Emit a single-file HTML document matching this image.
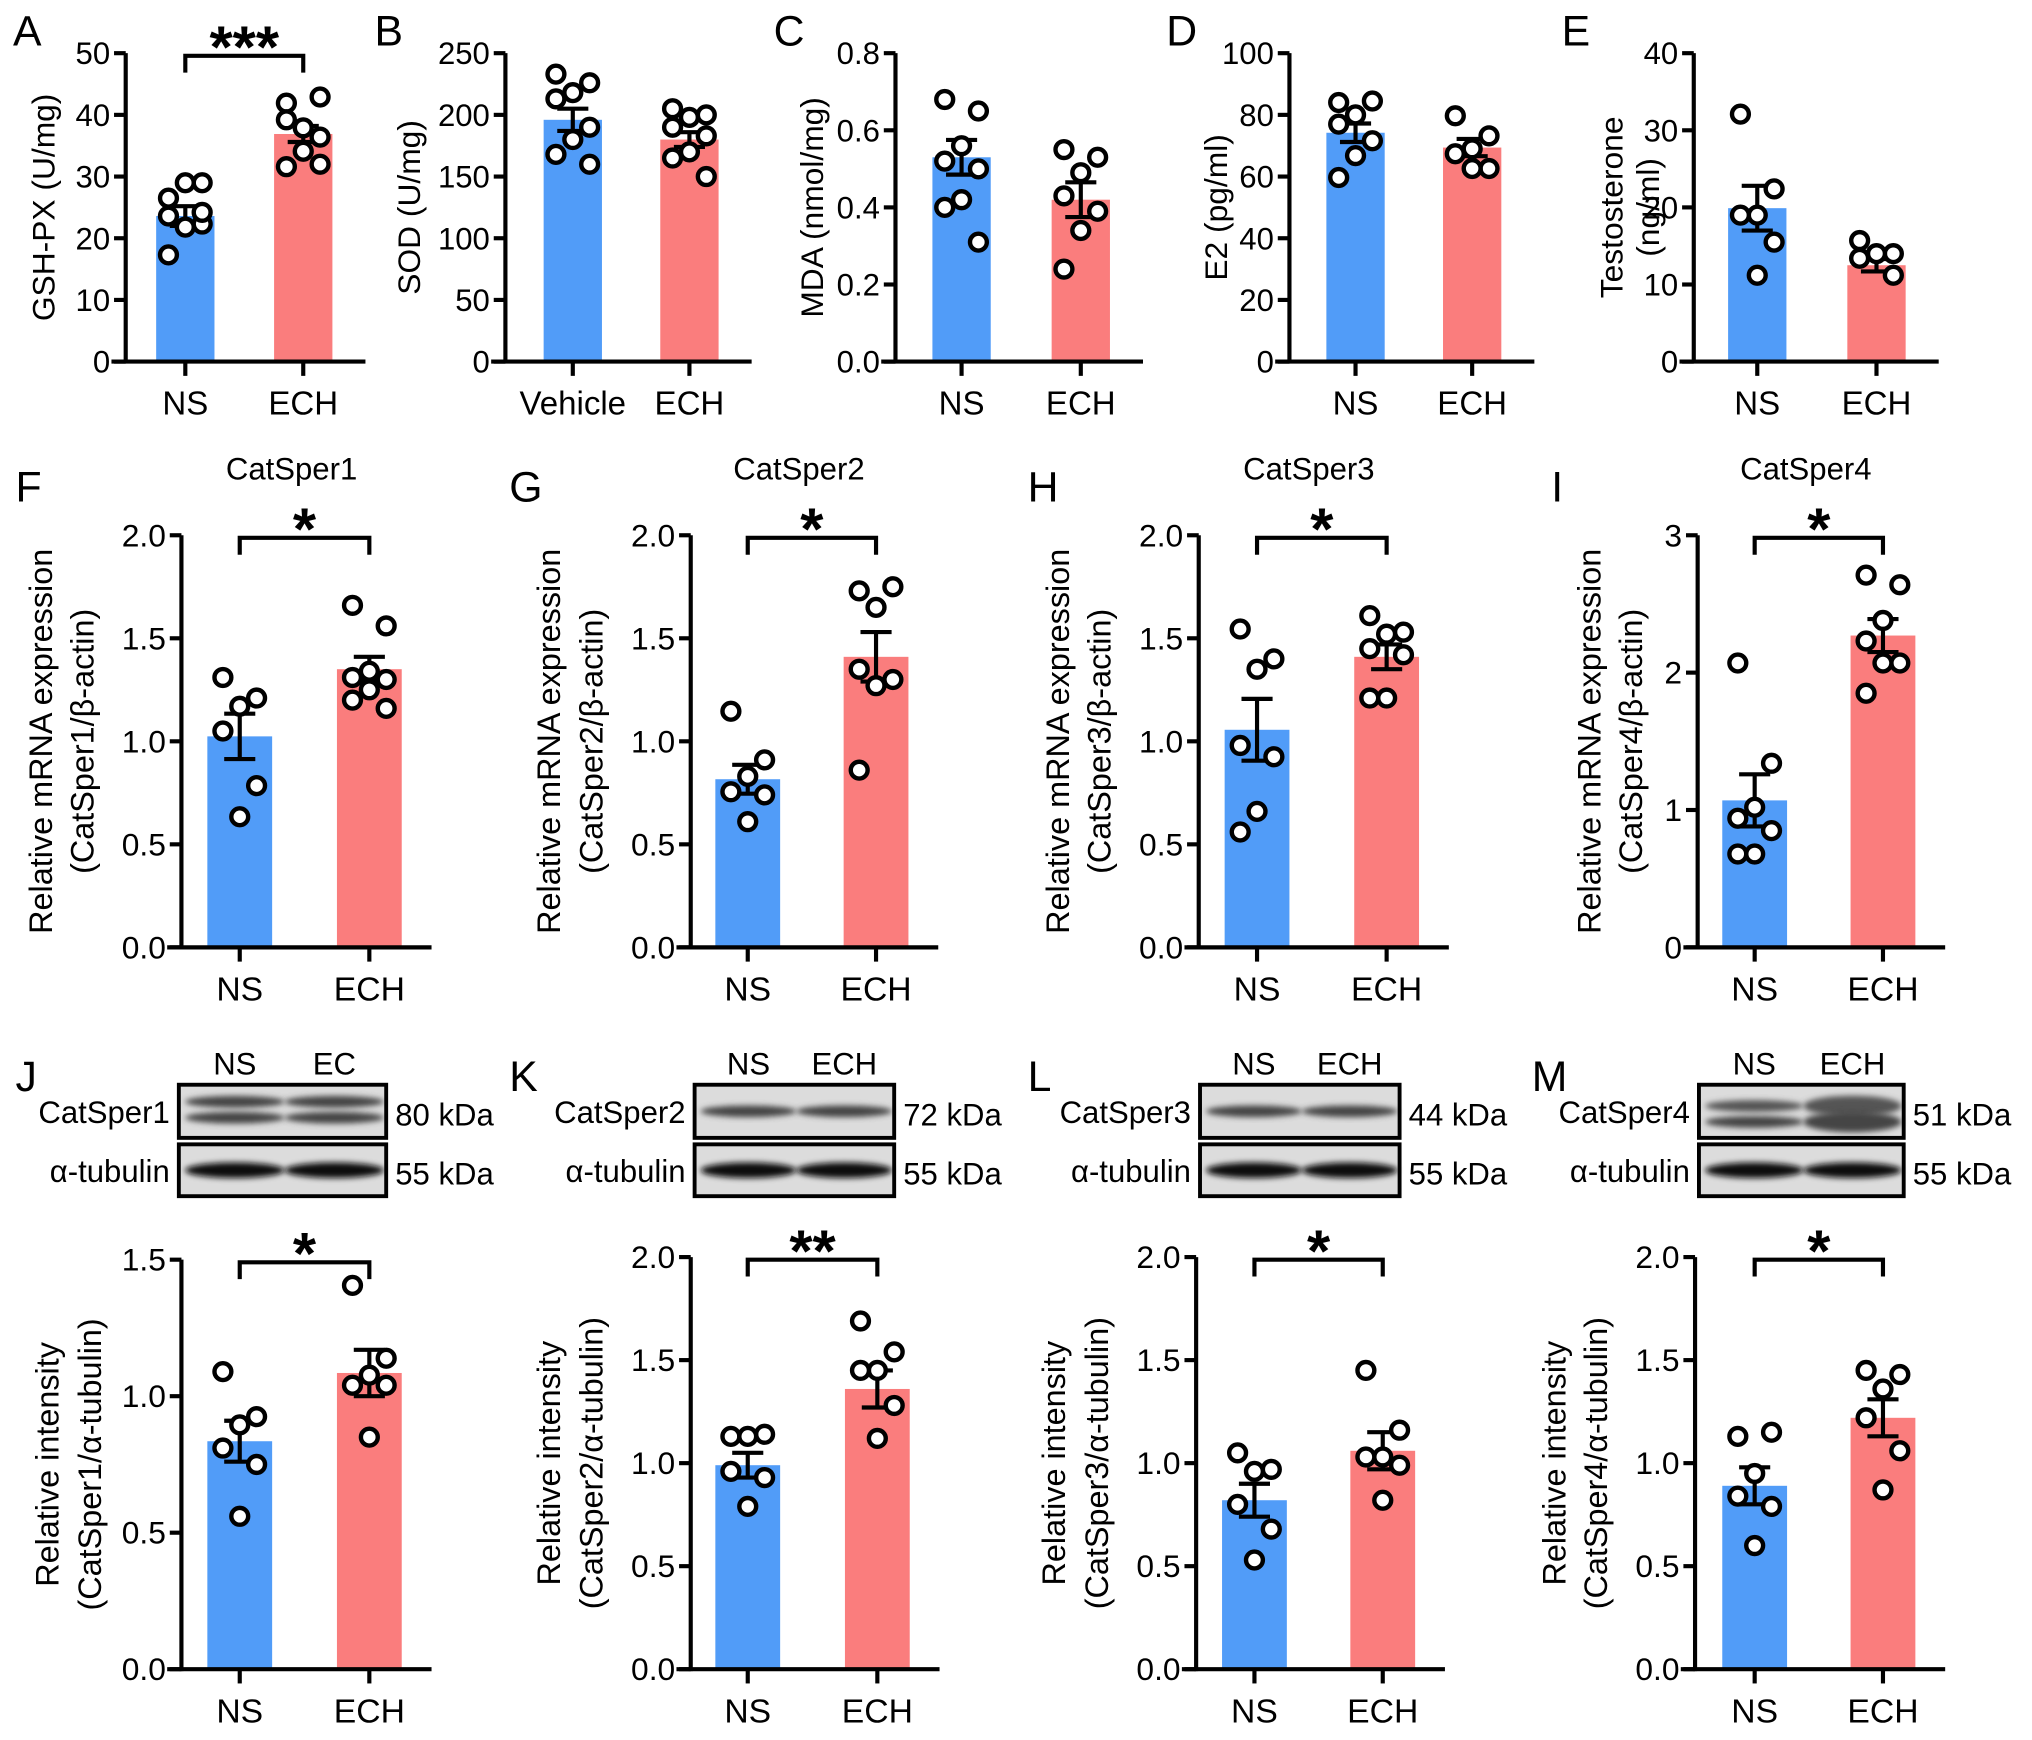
<!DOCTYPE html>
<html><head><meta charset="utf-8"><style>
html,body{margin:0;padding:0;background:#fff;}
svg{display:block;font-family:"Liberation Sans",Arial,sans-serif;}
</style></head><body>
<svg id="fig" xmlns="http://www.w3.org/2000/svg" width="2032" height="1740" viewBox="0 0 1568 1342.6">
<defs>
<filter id="blur1" x="-20%" y="-50%" width="140%" height="200%"><feGaussianBlur stdDeviation="2.2"/></filter>
</defs>
<g id="charts"></g>
<g id="blots"></g>
</svg>
<script>
// ---------- data ----------
const groups = ["NS","ECH"];
const groupsB = ["Vehicle","ECH"];
// A GSH-PX
const aNS=[26.5,29,29,23.6,22.3,21.8,17.3,24.2];
const aECH=[41.9,42.9,37.9,39.2,36.4,34.1,31.6,32];
const aMeans=[23.6,36.9]; const aSems=[1.6,1.3];
const ticksA=[0,10,20,30,40,50];
// B SOD
const bNS=[233,226,218,213,190,180,168,160];
const bECH=[205,200,198,190,183,170,165,150];
const bMeans=[196,180]; const bSems=[9,6];
const ticksB=[0,50,100,150,200,250];
// C MDA
const cNS=[0.68,0.65,0.56,0.52,0.5,0.42,0.40,0.31];
const cECH=[0.55,0.53,0.49,0.43,0.39,0.34,0.24];
const cMeans=[0.53,0.42]; const cSems=[0.045,0.045];
const ticksC=[0,0.2,0.4,0.6,0.8];
// D E2
const dNS=[84,84.5,80,77,71.6,66.8,59.7];
const dECH=[79.7,73.2,69,67.4,62.6,62.6];
const dMeans=[74.2,69.4]; const dSems=[3,2.8];
const ticksD=[0,20,40,60,80,100];
// E Testosterone
const eNS=[32.1,22.4,19,19,15.5,11.2];
const eECH=[15.7,14,14,13.4,11.2];
const eMeans=[19.9,12.5]; const eSems=[2.9,0.8];
const ticksE=[0,10,20,30,40];
// F CatSper1 mRNA
const fNS=[1.31,1.21,1.17,1.05,0.785,0.634];
const fECH=[1.66,1.56,1.34,1.31,1.30,1.25,1.20,1.16];
const fMeans=[1.024,1.35]; const fSems=[0.11,0.06];
// G CatSper2 mRNA
const gNS=[1.146,0.91,0.83,0.755,0.74,0.61];
const gECH=[1.73,1.75,1.65,1.35,1.30,1.27,0.86];
const gMeans=[0.816,1.41]; const gSems=[0.07,0.12];
// H CatSper3 mRNA
const hNS=[1.545,1.40,1.35,0.98,0.925,0.66,0.56];
const hECH=[1.61,1.53,1.52,1.45,1.42,1.21,1.21];
const hMeans=[1.056,1.41]; const hSems=[0.15,0.06];
// I CatSper4 mRNA
const iNS=[2.07,1.34,1.02,0.94,0.85,0.68,0.68];
const iECH=[2.71,2.64,2.38,2.23,2.07,2.07,1.85];
const iMeans=[1.07,2.27]; const iSems=[0.19,0.12];
const ticks2=[0,0.5,1.0,1.5,2.0];
const ticksI=[0,1,2,3];
const ticksJ=[0,0.5,1.0,1.5];
// J-M relative intensity
const jNS=[1.09,0.925,0.895,0.81,0.75,0.56];
const jECH=[1.406,1.139,1.077,1.04,1.04,0.85];
const jMeans=[0.835,1.085]; const jSems=[0.075,0.085];
const kNS=[1.13,1.14,1.13,0.96,0.93,0.79];
const kECH=[1.69,1.54,1.45,1.45,1.28,1.12];
const kMeans=[0.99,1.36]; const kSems=[0.06,0.09];
const lNS=[1.05,0.97,0.96,0.80,0.68,0.53];
const lECH=[1.45,1.16,1.03,1.03,0.99,0.82];
const lMeans=[0.82,1.06]; const lSems=[0.08,0.09];
const mNS=[1.13,1.15,0.95,0.84,0.79,0.6];
const mECH=[1.45,1.43,1.36,1.22,1.06,0.87];
const mMeans=[0.89,1.22]; const mSems=[0.09,0.09];

// ---------- layout ----------
const NS="http://www.w3.org/2000/svg";
const root=document.getElementById('charts');
function el(tag,attrs,parent,text){
  const e=document.createElementNS(NS,tag);
  for(const k in attrs) e.setAttribute(k,attrs[k]);
  if(text!==undefined) e.textContent=text;
  (parent||root).appendChild(e); return e;
}
const panels=[
 {id:'a',ax:97,t1:143,t2:234,y0:279,y1:41,max:50,ticks:ticksA,dec:0,cats:groups,ns:aNS,ech:aECH,means:aMeans,sems:aSems,sig:'***',yt:['GSH-PX (U/mg)'],ytx:[42],fs:24,bw:45},
 {id:'b',ax:390,t1:442,t2:532,y0:279,y1:41,max:250,ticks:ticksB,dec:0,cats:groupsB,ns:bNS,ech:bECH,means:bMeans,sems:bSems,yt:['SOD (U/mg)'],ytx:[324],fs:24,bw:45},
 {id:'c',ax:691,t1:742,t2:834,y0:279,y1:41,max:0.8,ticks:ticksC,dec:1,cats:groups,ns:cNS,ech:cECH,means:cMeans,sems:cSems,yt:['MDA (nmol/mg)'],ytx:[635],fs:24,bw:45},
 {id:'d',ax:995,t1:1046,t2:1136,y0:279,y1:41,max:100,ticks:ticksD,dec:0,cats:groups,ns:dNS,ech:dECH,means:dMeans,sems:dSems,yt:['E2 (pg/ml)'],ytx:[947],fs:24,bw:45},
 {id:'e',ax:1307,t1:1356,t2:1448,y0:279,y1:41,max:40,ticks:ticksE,dec:0,cats:groups,ns:eNS,ech:eECH,means:eMeans,sems:eSems,yt:['Testosterone','(ng/ml)'],ytx:[1252,1280],fs:24,bw:45},
 {id:'f',ax:140,t1:185,t2:285,y0:731,y1:413,max:2,ticks:ticks2,dec:1,cats:groups,ns:fNS,ech:fECH,means:fMeans,sems:fSems,sig:'*',yt:['Relative mRNA expression','(CatSper1/β-actin)'],ytx:[40,72],title:'CatSper1',fs:24.5,bw:50},
 {id:'g',ax:533,t1:577,t2:676,y0:731,y1:413,max:2,ticks:ticks2,dec:1,cats:groups,ns:gNS,ech:gECH,means:gMeans,sems:gSems,sig:'*',yt:['Relative mRNA expression','(CatSper2/β-actin)'],ytx:[432,465],title:'CatSper2',fs:24.5,bw:50},
 {id:'h',ax:925,t1:970,t2:1070,y0:731,y1:413,max:2,ticks:ticks2,dec:1,cats:groups,ns:hNS,ech:hECH,means:hMeans,sems:hSems,sig:'*',yt:['Relative mRNA expression','(CatSper3/β-actin)'],ytx:[825,857],title:'CatSper3',fs:24.5,bw:50},
 {id:'i',ax:1310,t1:1354,t2:1453,y0:731,y1:413,max:3,ticks:ticksI,dec:0,cats:groups,ns:iNS,ech:iECH,means:iMeans,sems:iSems,sig:'*',yt:['Relative mRNA expression','(CatSper4/β-actin)'],ytx:[1235,1267],title:'CatSper4',fs:24.5,bw:50},
 {id:'j',ax:140,t1:185,t2:285,y0:1288,y1:972,max:1.5,ticks:ticksJ,dec:1,cats:groups,ns:jNS,ech:jECH,means:jMeans,sems:jSems,sig:'*',yt:['Relative intensity','(CatSper1/α-tubulin)'],ytx:[45,78],fs:24.5,bw:50},
 {id:'k',ax:533,t1:577,t2:677,y0:1288,y1:970,max:2,ticks:ticks2,dec:1,cats:groups,ns:kNS,ech:kECH,means:kMeans,sems:kSems,sig:'**',yt:['Relative intensity','(CatSper2/α-tubulin)'],ytx:[432,465],fs:24.5,bw:50},
 {id:'l',ax:923,t1:968,t2:1067,y0:1288,y1:970,max:2,ticks:ticks2,dec:1,cats:groups,ns:lNS,ech:lECH,means:lMeans,sems:lSems,sig:'*',yt:['Relative intensity','(CatSper3/α-tubulin)'],ytx:[822,855],fs:24.5,bw:50},
 {id:'m',ax:1308,t1:1354,t2:1453,y0:1288,y1:970,max:2,ticks:ticks2,dec:1,cats:groups,ns:mNS,ech:mECH,means:mMeans,sems:mSems,sig:'*',yt:['Relative intensity','(CatSper4/α-tubulin)'],ytx:[1208,1240],fs:24.5,bw:50}
];
const COL=['#519cf8','#fa7d7d'];
const JIT=[-13,13,0];

panels.forEach(p=>{
  const g=el('g',{});
  
  
  const y=v=>p.y0-v/p.max*(p.y0-p.y1);
  const xs=[p.t1,p.t2];
  const series=[p.ns,p.ech];
  xs.forEach((cx,i)=>{
    const r=el('rect',{x:cx-p.bw/2,y:y(p.means[i]),width:p.bw,height:p.y0-y(p.means[i]),fill:COL[i]},g);
    
    
  });
  xs.forEach((cx,i)=>{
    const m=p.means[i],s=p.sems[i];
    const eg=el('g',{stroke:'#000','stroke-width':3.2,fill:'none'},g);
    
    
    el('line',{x1:cx,x2:cx,y1:y(m+s),y2:y(m-s)},eg);
    el('line',{x1:cx-12,x2:cx+12,y1:y(m+s),y2:y(m+s)},eg);
    el('line',{x1:cx-12,x2:cx+12,y1:y(m-s),y2:y(m-s)},eg);
  });
  series.forEach((vals,i)=>{
    vals.forEach((v,k)=>{
      const c=el('circle',{cx:xs[i]+JIT[k%3],cy:y(v),r:6.5,fill:'#fff',stroke:'#000','stroke-width':3.4},g);
      
      
    });
  });
  const ax=el('g',{stroke:'#000','stroke-width':3.2,fill:'none'},g);
  
  
  el('line',{x1:p.ax,x2:p.ax,y1:p.y1,y2:p.y0+1.5},ax);
  el('line',{x1:p.ax-11,x2:p.t2+48,y1:p.y0,y2:p.y0},ax);
  p.ticks.forEach(t=>el('line',{x1:p.ax-9,x2:p.ax,y1:y(t),y2:y(t)},ax));
  xs.forEach(cx=>el('line',{x1:cx,x2:cx,y1:p.y0,y2:p.y0+11},ax));
  p.ticks.forEach(t=>{
    const tl=el('text',{x:p.ax-12,y:y(t)+8.5,'text-anchor':'end','font-size':p.fs},g,t.toFixed(p.dec));
    
    
  });
  xs.forEach((cx,i)=>{
    const cl=el('text',{x:cx,y:p.y0+41,'text-anchor':'middle','font-size':p.fs+1.5},g,p.cats[i]);
    
    
  });
  const cy=(p.y0+p.y1)/2;
  p.yt.forEach((t,k)=>{
    const tx=el('text',{x:0,y:0,'text-anchor':'middle','font-size':p.fs+0.5,transform:`translate(${p.ytx[k]},${cy}) rotate(-90)`},g,t);
    
    
  });
  if(p.title){
    const tt=el('text',{x:(p.t1+p.t2)/2-10,y:p.y1-43,'text-anchor':'middle','font-size':24},g,p.title);
    
    
  }
  if(p.sig){
    const bg=el('g',{stroke:'#000','stroke-width':3.2,fill:'none'},g);
    
    
    const by=p.y1+2;
    el('polyline',{points:`${p.t1},${by+13} ${p.t1},${by} ${p.t2},${by} ${p.t2},${by+13}`},bg);
    const st=el('text',{x:(p.t1+p.t2)/2,y:by+9,'text-anchor':'middle','font-size':46,'font-weight':'bold'},g,p.sig);
    
    
  }
});

const letters=[['A',10,35],['B',289,35],['C',597,35],['D',900,35],['E',1205,35],
 ['F',12,387],['G',393,387],['H',793,387],['I',1197,387],
 ['J',12,842],['K',393,842],['L',793,842],['M',1182,842]];
letters.forEach(l=>{
  const t=el('text',{x:l[1],y:l[2],'font-size':33},root,l[0]);
  
  
});

const blots=[
 {id:'j',x:138,w:160,top:'CatSper1',kda:'80 kDa',lanes:['NS','EC'],bandY:[0.32,0.62]},
 {id:'k',x:536,w:154,top:'CatSper2',kda:'72 kDa',lanes:['NS','ECH'],bandY:[0.5]},
 {id:'l',x:926,w:154,top:'CatSper3',kda:'44 kDa',lanes:['NS','ECH'],bandY:[0.5]},
 {id:'m',x:1311,w:158,top:'CatSper4',kda:'51 kDa',lanes:['NS','ECH'],bandY:[0.4,0.7]}
];
const broot=document.getElementById('blots');
blots.forEach(b=>{
  const g=el('g',{},broot);
  
  
  const rows=[{y:837,h:41,label:b.top,kda:b.kda},{y:883,h:40,label:'α-tubulin',kda:'55 kDa'}];
  b.lanes.forEach((ln,i)=>{
    const t=el('text',{x:b.x+b.w*(i?0.75:0.27),y:829,'text-anchor':'middle','font-size':24},g,ln);
    
    
  });
  rows.forEach((r,ri)=>{
    el('rect',{x:b.x,y:r.y,width:b.w,height:r.h,fill:'#dcdcdc'},g);
    const bands=ri===0?b.bandY:[0.5];
    bands.forEach((fy,bi)=>{
      [0.27,0.75].forEach((fx,li)=>{
        const dark=ri===1?'#111':(bi===bands.length-1||b.id!=='m'?'#444':'#555');
        el('ellipse',{cx:b.x+b.w*fx,cy:r.y+r.h*fy,rx:b.w*0.24,ry:(ri===1?6:(li&&b.id==='m'?8:4.5)),fill:dark,filter:'url(#blur1)'},g);
      });
    });
    el('rect',{x:b.x,y:r.y,width:b.w,height:r.h,fill:'none',stroke:'#000','stroke-width':3},g);
    const lt=el('text',{x:b.x-7,y:r.y+r.h/2+9,'text-anchor':'end','font-size':24},g,r.label);
    
    
    const kt=el('text',{x:b.x+b.w+7,y:r.y+r.h/2+11,'font-size':24},g,r.kda);
    
    
  });
});
</script>
</body></html>
